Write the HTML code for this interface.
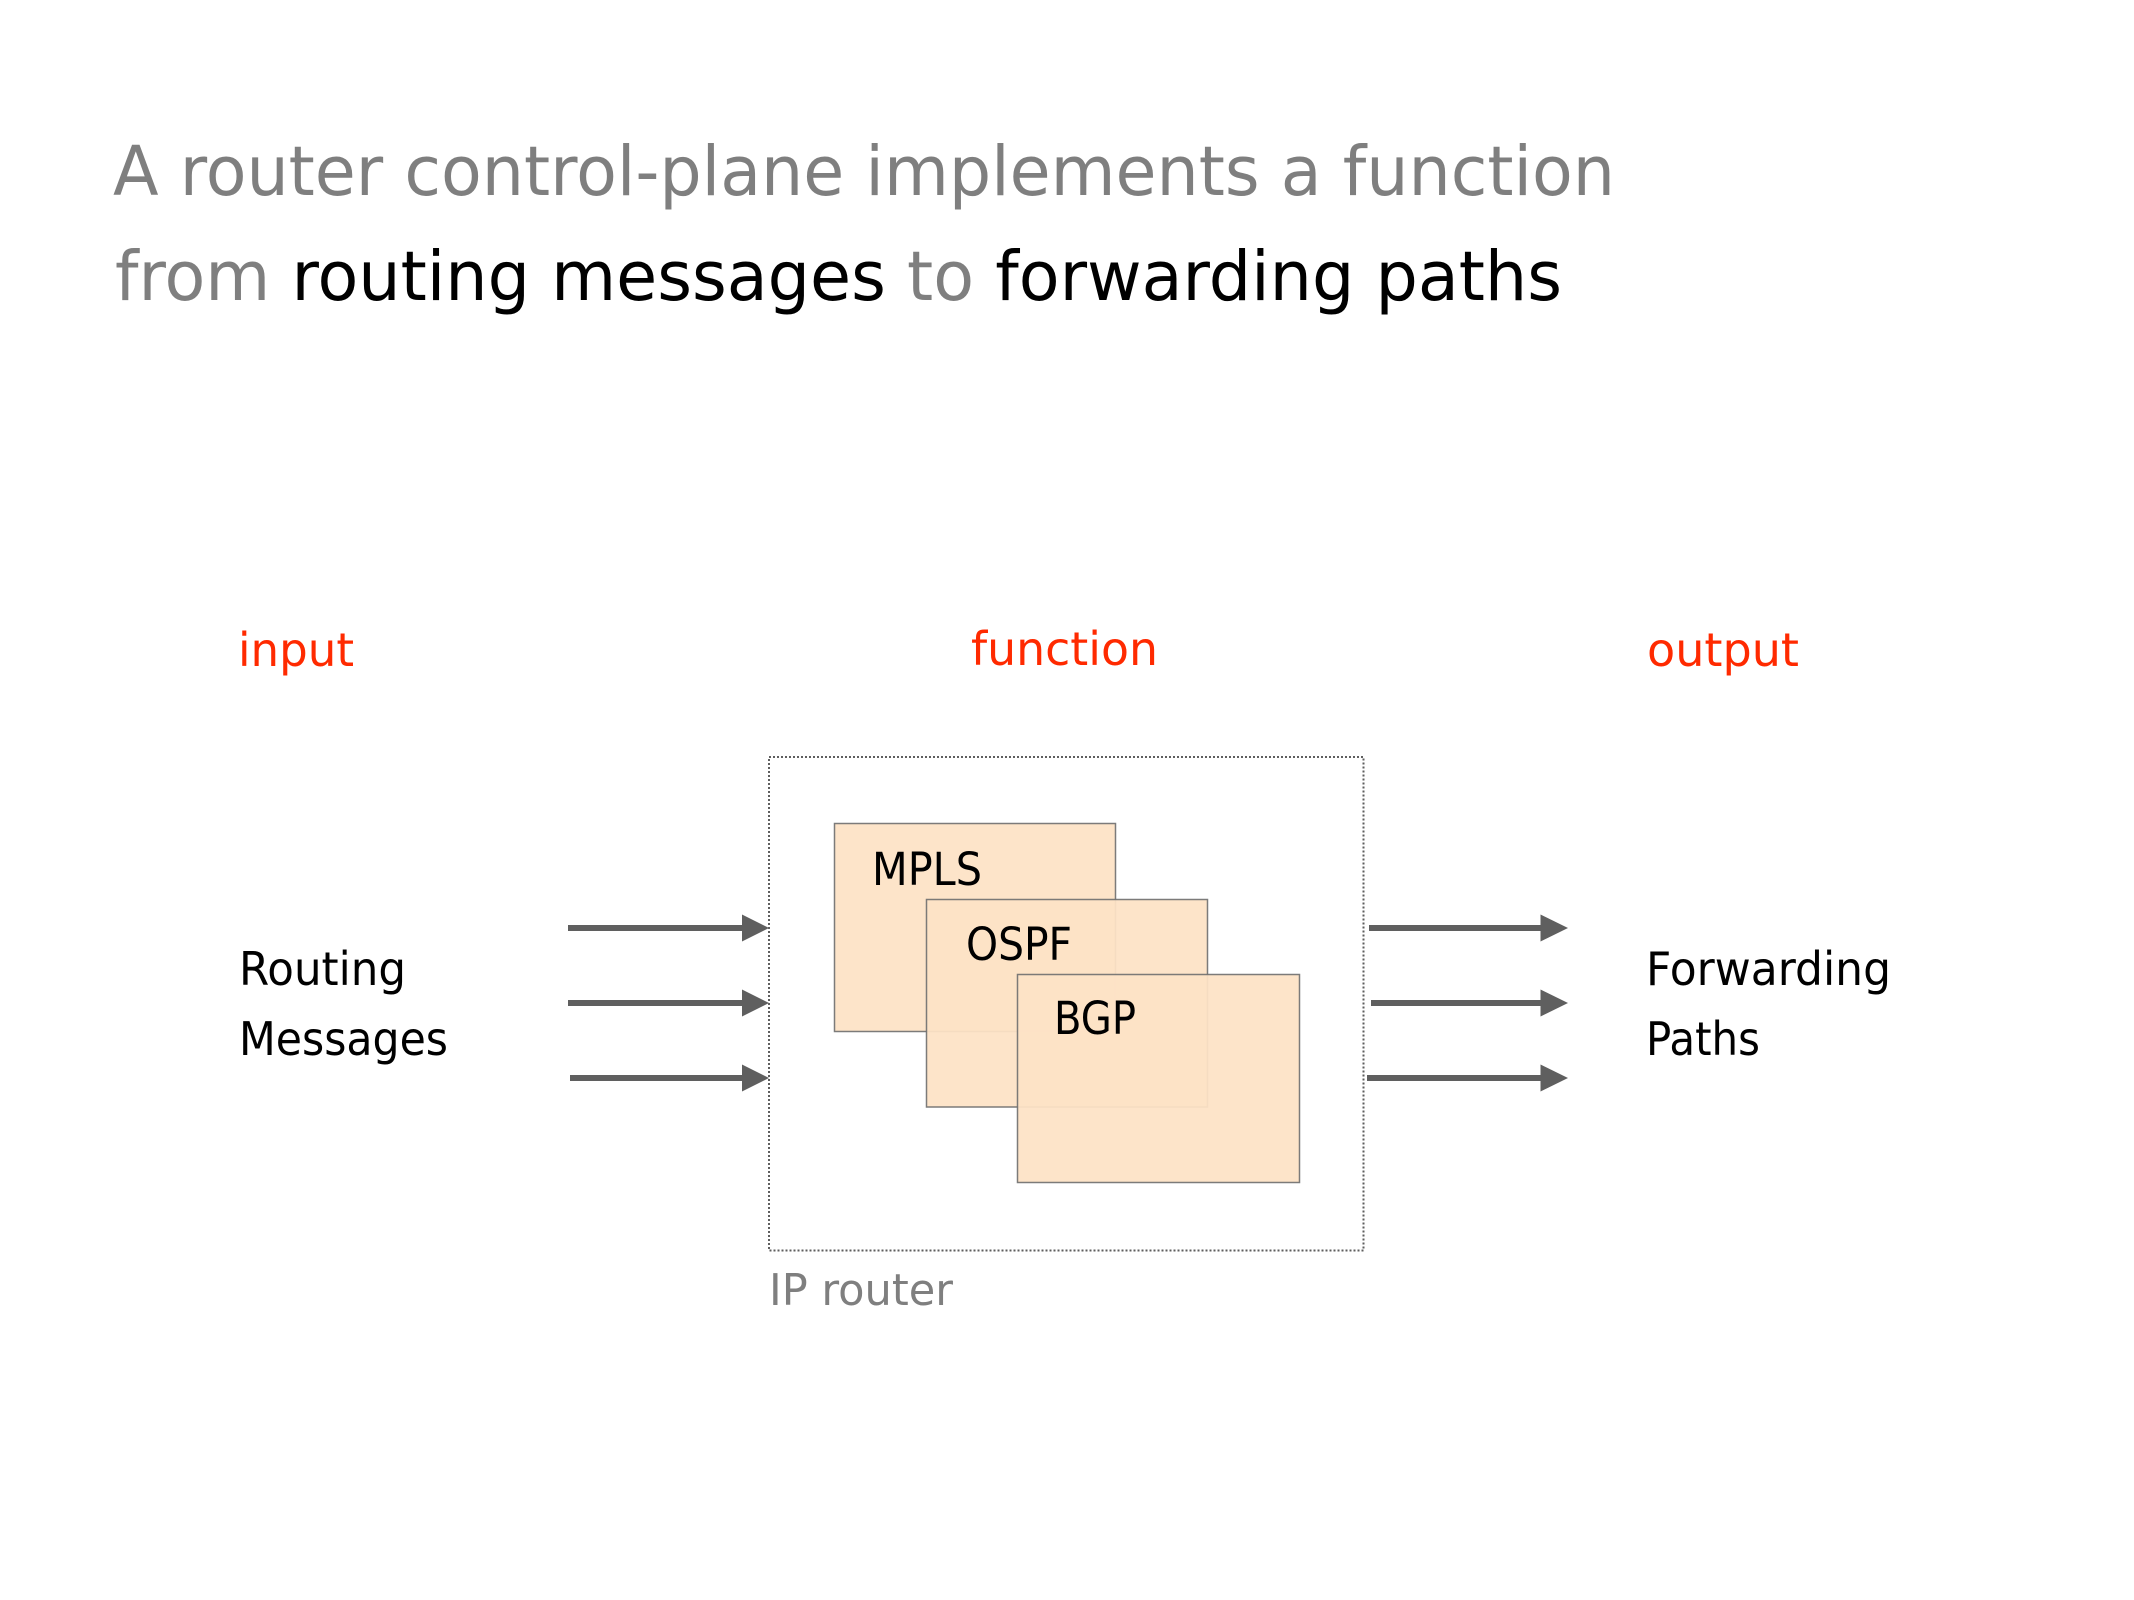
<!DOCTYPE html>
<html>
<head>
<meta charset="utf-8">
<style>
  html, body { margin:0; padding:0; background:#ffffff; }
  body { width:2134px; height:1600px; overflow:hidden; }
  svg { display:block; }
  text { font-family: "DejaVu Sans", "Liberation Sans", sans-serif; }
</style>
</head>
<body>
<svg width="2134" height="1600" viewBox="0 0 2134 1600" xmlns="http://www.w3.org/2000/svg">
  <rect x="0" y="0" width="2134" height="1600" fill="#ffffff"/>

  <!-- Title -->
  <text x="113" y="195" font-size="69" fill="#7f7f7f" textLength="1502" lengthAdjust="spacingAndGlyphs">A router control-plane implements a function</text>
  <text x="115" y="300" font-size="69" fill="#000000" textLength="1447" lengthAdjust="spacingAndGlyphs"><tspan fill="#7f7f7f">from</tspan> routing messages <tspan fill="#7f7f7f">to</tspan> forwarding paths</text>

  <!-- Red headers -->
  <text x="238" y="666" font-size="46" fill="#ff2a00" textLength="116" lengthAdjust="spacingAndGlyphs">input</text>
  <text x="971" y="665" font-size="46" fill="#ff2a00" textLength="187" lengthAdjust="spacingAndGlyphs">function</text>
  <text x="1647" y="666" font-size="46" fill="#ff2a00" textLength="152" lengthAdjust="spacingAndGlyphs">output</text>

  <!-- Side labels -->
  <text x="239" y="985" font-size="46" fill="#000" textLength="167" lengthAdjust="spacingAndGlyphs">Routing</text>
  <text x="239" y="1055" font-size="46" fill="#000" textLength="209" lengthAdjust="spacingAndGlyphs">Messages</text>
  <text x="1646" y="985" font-size="46" fill="#000" textLength="245" lengthAdjust="spacingAndGlyphs">Forwarding</text>
  <text x="1646" y="1055" font-size="46" fill="#000" textLength="114" lengthAdjust="spacingAndGlyphs">Paths</text>

  <!-- Dotted router box -->
  <rect x="769" y="757" width="594.5" height="493.5" fill="none" stroke="#5e5e5e" stroke-width="2" stroke-dasharray="2 2"/>
  <text x="769" y="1305" font-size="44" fill="#7f7f7f" textLength="184" lengthAdjust="spacingAndGlyphs">IP router</text>

  <!-- Protocol boxes -->
  <rect x="834.5" y="823.5" width="281" height="208" fill="#fde2c6" fill-opacity="0.94" stroke="#6e6e6e" stroke-opacity="0.9" stroke-width="1.5"/>
  <text x="872" y="885" font-size="45" fill="#000" textLength="110" lengthAdjust="spacingAndGlyphs">MPLS</text>
  <rect x="926.5" y="899.5" width="281" height="207.5" fill="#fde2c6" fill-opacity="0.94" stroke="#6e6e6e" stroke-opacity="0.9" stroke-width="1.5"/>
  <text x="966" y="960" font-size="45" fill="#000" textLength="106" lengthAdjust="spacingAndGlyphs">OSPF</text>
  <rect x="1017.5" y="974.5" width="282" height="208" fill="#fde2c6" fill-opacity="0.94" stroke="#6e6e6e" stroke-opacity="0.9" stroke-width="1.5"/>
  <text x="1054" y="1034" font-size="45" fill="#000" textLength="82" lengthAdjust="spacingAndGlyphs">BGP</text>

  <!-- Input arrows -->
  <g fill="#5f5f5f" stroke="none">
    <rect x="568" y="925" width="176" height="6"/>
    <polygon points="742,914.5 769,928 742,941.5"/>
    <rect x="568" y="1000" width="176" height="6"/>
    <polygon points="742,989.5 769,1003 742,1016.5"/>
    <rect x="570" y="1075" width="174" height="6"/>
    <polygon points="742,1064.5 769,1078 742,1091.5"/>
  </g>

  <!-- Output arrows -->
  <g fill="#5f5f5f" stroke="none">
    <rect x="1369" y="925" width="173" height="6"/>
    <polygon points="1540.5,914.5 1568,928 1540.5,941.5"/>
    <rect x="1371" y="1000" width="171" height="6"/>
    <polygon points="1540.5,989.5 1568,1003 1540.5,1016.5"/>
    <rect x="1367" y="1075" width="175" height="6"/>
    <polygon points="1540.5,1064.5 1568,1078 1540.5,1091.5"/>
  </g>
</svg>
</body>
</html>
